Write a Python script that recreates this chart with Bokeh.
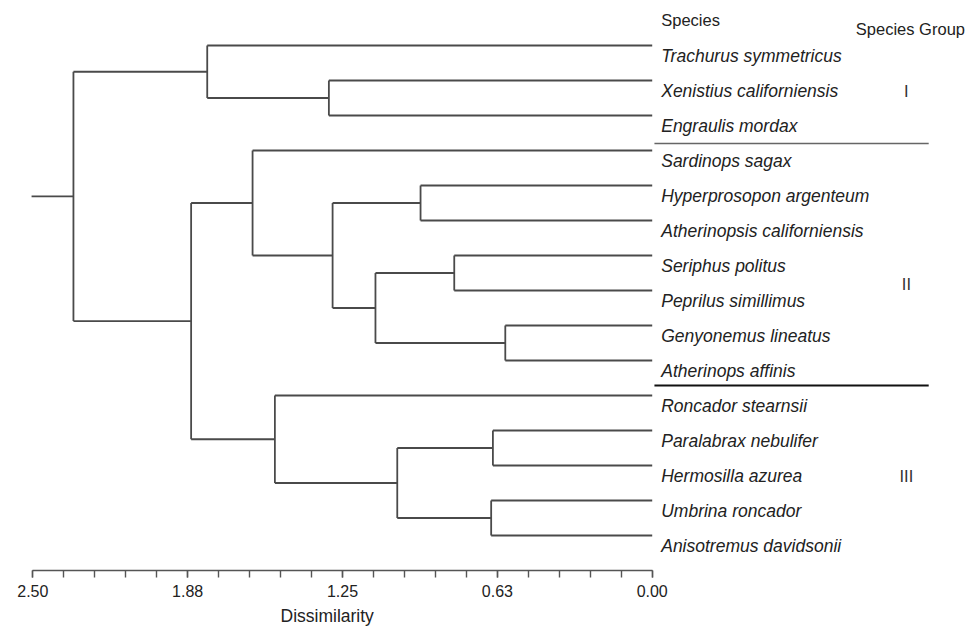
from bokeh.plotting import figure
from bokeh.models import ColumnDataSource, Range1d, FixedTicker, CustomJSTickFormatter, Title
from bokeh.core.properties import value
from bokeh.embed import file_html
from bokeh.resources import INLINE

# ---- data ----
species = [
    "Trachurus symmetricus", "Xenistius californiensis", "Engraulis mordax",
    "Sardinops sagax", "Hyperprosopon argenteum", "Atherinopsis californiensis",
    "Seriphus politus", "Peprilus simillimus", "Genyonemus lineatus",
    "Atherinops affinis", "Roncador stearnsii", "Paralabrax nebulifer",
    "Hermosilla azurea", "Umbrina roncador", "Anisotremus davidsonii",
]
# linkage: (child a, child b, dissimilarity); new cluster ids start at len(species)
merge_a = [1, 0, 4, 6, 8, 18, 17, 3, 11, 13, 23, 10, 22, 16]
merge_b = [2, 15, 5, 7, 9, 19, 20, 21, 12, 14, 24, 25, 26, 27]
merge_h = [1.305, 1.796, 0.935, 0.799, 0.593, 1.117, 1.290, 1.613,
           0.643, 0.650, 1.029, 1.523, 1.861, 2.336]
root_stub = 2.505

groups = ["I", "II", "III"]
group_pos = [1, 6.5, 12]
separators = [2.8, 9.714]

major_ticks = [0.0, 0.625, 1.25, 1.875, 2.5]
minor_ticks = [0.125 * k for k in range(21)]

# ---- dendrogram geometry ----
n = len(species)
node_x = {i: 0.0 for i in range(n)}
node_y = {i: float(i) for i in range(n)}
x0, y0, x1, y1 = [], [], [], []
for k, (a, b, h) in enumerate(zip(merge_a, merge_b, merge_h)):
    nid = n + k
    for c in (a, b):
        x0.append(node_x[c]); y0.append(node_y[c]); x1.append(h); y1.append(node_y[c])
    x0.append(h); y0.append(node_y[a]); x1.append(h); y1.append(node_y[b])
    node_x[nid] = h
    node_y[nid] = (node_y[a] + node_y[b]) / 2
root = n + len(merge_h) - 1
x0.append(node_x[root]); y0.append(node_y[root]); x1.append(root_stub); y1.append(node_y[root])

GROUP_X = -1.026
SEP_X0, SEP_X1 = -0.009, -1.116

p = figure(width=976, height=634, output_backend="svg", toolbar_location=None,
           x_range=Range1d(2.6304, -1.3089), y_range=Range1d(15.0, -1.2857),
           min_border_left=0, min_border_right=0, min_border_top=0, min_border_bottom=64,
           y_axis_location=None)
p.outline_line_color = None
p.grid.visible = False
p.background_fill_color = "white"
p.border_fill_color = "white"

src = ColumnDataSource(dict(x0=x0, y0=y0, x1=x1, y1=y1))
p.segment("x0", "y0", "x1", "y1", source=src, line_color="#4a4a4a", line_width=1.8)

# species labels
lab = ColumnDataSource(dict(x=[0.0] * n, y=list(range(n)), t=species))
p.text("x", "y", "t", source=lab, x_offset=9, y_offset=11, text_baseline="alphabetic",
       text_font=value("Liberation Sans"), text_font_style="italic",
       text_font_size="17.5px", text_color="#222222")

# headers
p.text(x=[0.0], y=[0], text=["Species"], x_offset=9, y_offset=-25, text_baseline="alphabetic",
       text_font=value("Liberation Sans"), text_font_size="16.5px", text_color="#222222")
p.text(x=[GROUP_X], y=[0], text=["Species Group"], x_offset=4, y_offset=-16.5,
       text_align="center", text_baseline="alphabetic",
       text_font=value("Liberation Sans"), text_font_size="16.5px", text_color="#222222")

# group numerals
p.text(x=[GROUP_X] * len(groups), y=group_pos, text=groups, y_offset=11,
       text_align="center", text_baseline="alphabetic",
       text_font=value("Liberation Sans"), text_font_size="16.5px", text_color="#333333")

# separators
p.segment(x0=[SEP_X0], y0=[separators[0]], x1=[SEP_X1], y1=[separators[0]],
          line_color="#666666", line_width=1.5)
p.segment(x0=[SEP_X0], y0=[separators[1]], x1=[SEP_X1], y1=[separators[1]],
          line_color="#111111", line_width=2)

ax = p.xaxis[0]
ax.bounds = (0, 2.5)
ax.ticker = FixedTicker(ticks=major_ticks, minor_ticks=minor_ticks)
ax.formatter = CustomJSTickFormatter(code="return tick.toFixed(2);")
ax.axis_line_color = "#555555"
ax.axis_line_width = 1.6
ax.major_tick_line_color = "#555555"
ax.minor_tick_line_color = "#555555"
ax.major_tick_line_width = 1.4
ax.minor_tick_line_width = 1.4
ax.major_tick_in = 0
ax.major_tick_out = 7
ax.minor_tick_in = 0
ax.minor_tick_out = 7
ax.major_label_standoff = 7
ax.major_label_text_font = "Liberation Sans"
ax.major_label_text_font_size = "16px"
ax.major_label_text_color = "#222222"

title = Title(text="Dissimilarity", align="left", offset=280, standoff=8,
              text_font="Liberation Sans", text_font_style="normal",
              text_font_size="17.5px", text_color="#222222")
p.add_layout(title, "below")

open("out.html", "w").write(file_html(p, INLINE))
